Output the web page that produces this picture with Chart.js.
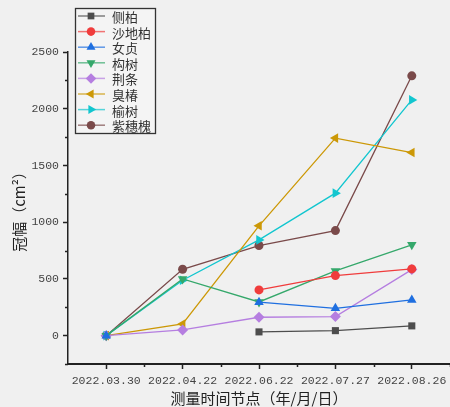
<!DOCTYPE html>
<html><head><meta charset="utf-8">
<script src="https://cdn.jsdelivr.net/npm/chart.js@4/dist/chart.umd.min.js"></script>
<style>html,body{margin:0;padding:0;background:#f0f0f0}#wrap{width:450px;height:407px;position:relative}</style>
</head><body><div id="wrap"><canvas id="c"></canvas></div>
<script>
const categories = ["2022.03.30","2022.04.22","2022.06.22","2022.07.27","2022.08.26"];
const seriesNames = ["侧柏","沙地柏","女贞","构树","荆条","臭椿","榆树","紫穗槐"];
const cebai     = [null, null, 33, 44, 86];
const shadibai  = [null, null, 403, 529, 588];
const nvzhen    = [0, null, 295, 241, 315];
const goushu    = [0, 500, 297, 570, 800];
const jingtiao  = [0, 50, 162, 168, 582];
const chouchun  = [0, 103, 968, 1741, 1614];
const yushu     = [0, 488, 844, 1256, 2078];
const zisuihuai = [0, 585, 794, 926, 2290];
const yMin = -250, yMax = 2500, yStep = 250, yLabelStep = 500;
const xTitle = "测量时间节点（年/月/日）";
const yTitle = "冠幅（cm²）";

const colors = ["#4d4d4d","#f03c3c","#1f6fe0","#35a86b","#b57ee0","#cc9806","#12c6cf","#7a4a4a"];
const styles = [
  {pointStyle:"rect", rotation:0, r:5},
  {pointStyle:"circle", rotation:0, r:4.5},
  {pointStyle:"triangle", rotation:0, r:5.5},
  {pointStyle:"triangle", rotation:180, r:5.5},
  {pointStyle:"rectRot", rotation:0, r:5.5},
  {pointStyle:"triangle", rotation:-90, r:5.5},
  {pointStyle:"triangle", rotation:90, r:5.5},
  {pointStyle:"circle", rotation:0, r:4.5}
];
const allData = [cebai, shadibai, nvzhen, goushu, jingtiao, chouchun, yushu, zisuihuai];

const datasets = allData.map((d,i)=>({
  label: seriesNames[i], data: d,
  borderColor: colors[i], backgroundColor: colors[i],
  borderWidth: 1.3, pointStyle: styles[i].pointStyle, rotation: styles[i].rotation,
  pointRadius: styles[i].r, pointHoverRadius: styles[i].r, pointBorderWidth: 0,
  spanGaps: false, tension: 0
}));

const numFont = {family:"'Liberation Mono', monospace", size:11.5};
const cjkFont = {family:"'Noto Sans CJK SC', sans-serif", size:15};

const extras = {
  id:"extras",
  afterDraw(chart){
    const ctx = chart.ctx, ca = chart.chartArea;
    const xs = chart.scales.x, ys = chart.scales.y;
    ctx.save();
    ctx.strokeStyle = "#222"; ctx.lineWidth = 1.5;
    for (let v = yMin; v <= yMax; v += yStep) {
      if (v % yLabelStep === 0) continue;
      const y = Math.round(ys.getPixelForValue(v)) + 0.5;
      ctx.beginPath(); ctx.moveTo(ca.left - 3, y); ctx.lineTo(ca.left, y); ctx.stroke();
    }
    for (let i = 0; i < categories.length; i++) {
      const x = xs.getPixelForValue(i) + (xs.getPixelForValue(1) - xs.getPixelForValue(0)) / 2;
      ctx.beginPath(); ctx.moveTo(Math.round(x)+0.5, ca.bottom); ctx.lineTo(Math.round(x)+0.5, ca.bottom + 3); ctx.stroke();
    }
    const bx = 75, by = 8, bw = 80, bh = 125;
    ctx.fillStyle = "#f4f4f4";
    ctx.fillRect(bx, by, bw, bh);
    ctx.strokeStyle = "#333"; ctx.lineWidth = 1.3;
    ctx.strokeRect(bx + 0.5, by + 0.5, bw, bh);
    ctx.font = "13px 'Noto Sans CJK SC', sans-serif";
    ctx.textBaseline = "middle"; ctx.textAlign = "left";
    chart.data.datasets.forEach((ds, i) => {
      const y = 16 + i * 15.6;
      ctx.globalAlpha = 0.7;
      ctx.strokeStyle = ds.borderColor; ctx.lineWidth = 1.5;
      ctx.beginPath(); ctx.moveTo(78, y); ctx.lineTo(105, y); ctx.stroke();
      ctx.globalAlpha = 1;
      ctx.fillStyle = ds.backgroundColor; ctx.strokeStyle = ds.borderColor;
      Chart.helpers.drawPoint(ctx, {pointStyle: ds.pointStyle, rotation: ds.rotation, radius: ds.pointRadius * 0.95, borderWidth: 0}, 91, y);
      ctx.fillStyle = "#333";
      ctx.fillText(ds.label, 112, y + 1);
    });
    ctx.restore();
  }
};

new Chart(document.getElementById("c"), {
  type: "line",
  data: { labels: categories, datasets },
  options: {
    responsive: true, maintainAspectRatio: false, animation: false,
    layout: { autoPadding: false, padding: { top: 52, right: 0, left: 0, bottom: 0 } },
    plugins: { legend: { display: false }, tooltip: { enabled: false } },
    scales: {
      x: {
        offset: true,
        grid: { display: true, drawOnChartArea: false, offset: false, tickLength: 5, tickColor: "#222", tickWidth: 1.5 },
        border: { display: true, color: "#222", width: 2 },
        ticks: { color: "#444", font: numFont, padding: 5, maxRotation: 0, autoSkip: false },
        title: { display: true, text: xTitle, color: "#222", font: cjkFont, padding: { top: 0, bottom: 0 } },
        afterFit(s){ s.height = 43; s.paddingLeft = 0; s.paddingRight = 0; }
      },
      y: {
        min: yMin, max: yMax,
        ticks: { stepSize: yStep, color: "#444", font: numFont, padding: 4,
          callback: v => (v % yLabelStep === 0 ? String(v) : "") },
        grid: { display: true, drawOnChartArea: false, tickLength: 5, tickWidth: 1.5,
          tickColor: ctx => (ctx.tick && ctx.tick.value % yLabelStep === 0 ? "#222" : "rgba(0,0,0,0)") },
        border: { display: true, color: "#222", width: 1.5 },
        title: { display: true, text: yTitle, color: "#222", font: cjkFont, padding: { top: 10, bottom: 0 } },
        afterFit(s){ s.width = 68; s.paddingTop = 0; s.paddingBottom = 0; }
      }
    }
  },
  plugins: [extras]
});
</script>
</body></html>
